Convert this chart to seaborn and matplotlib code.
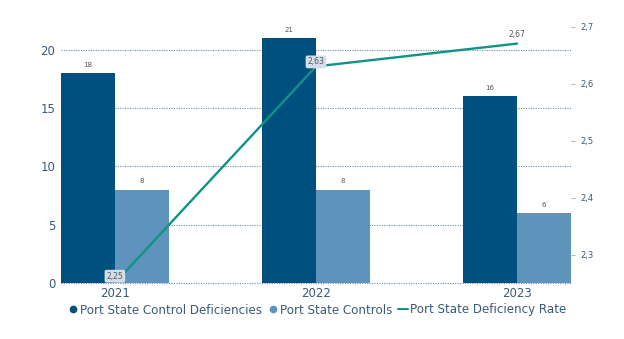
import matplotlib
matplotlib.use("Agg")
import matplotlib.pyplot as plt
import seaborn as sns
import pandas as pd
from matplotlib.lines import Line2D

years = ["2021", "2022", "2023"]
deficiencies = [18, 21, 16]
controls = [8, 8, 6]
rate = [2.25, 2.63, 2.67]
rate_labels = ["2,25", "2,63", "2,67"]

dark = "#00507F"
light = "#5E94BB"
teal = "#0E9385"
txt = "#3A5A78"

sns.set_theme(style="white")
plt.rcParams['font.family'] = ['DejaVu Sans']

df = pd.DataFrame({
    "year": years * 2,
    "value": deficiencies + controls,
    "series": ["Port State Control Deficiencies"] * 3 + ["Port State Controls"] * 3,
})

fig = plt.figure(figsize=(6.24, 3.39), dpi=100)
ax = fig.add_axes([61/624, 1 - 283/339, (571-61)/624, (283-26.5)/339])
sns.barplot(data=df, x="year", y="value", hue="series", palette=[dark, light],
            width=0.536, ax=ax, legend=False, saturation=1)
for p in ax.patches:
    p.set_edgecolor("none")
ax.set_xlim(-0.268, 2.268)
ax.set_ylim(0, 22)
ax.set_yticks([0, 5, 10, 15, 20])
ax.yaxis.grid(True, linestyle=(0, (1, 1.2)), color="#6F8FAE", linewidth=0.8)
ax.axhline(0, linestyle=(0, (1, 1.2)), color="#6F8FAE", linewidth=0.8,
           clip_on=False, zorder=0.5)
ax.set_axisbelow(True)
for s in ax.spines.values():
    s.set_visible(False)
ax.set_xlabel("")
ax.set_ylabel("")
ax.tick_params(axis="both", length=0, labelsize=8.5, colors=txt, pad=4)
ax.tick_params(axis="x", pad=3)

for c in ax.containers:
    for bar in c:
        h = bar.get_height()
        ax.text(bar.get_x() + bar.get_width()/2, h + 0.45, f"{int(h)}",
                ha="center", va="bottom", fontsize=5, color="#555555")

ax2 = ax.twinx()
ax2.plot([0, 1, 2], rate, color=teal, linewidth=1.7, zorder=5)
ax2.set_ylim(2.25, 2.7)
ax2.set_yticks([2.3, 2.4, 2.5, 2.6, 2.7])
ax2.set_yticklabels(["2,3", "2,4", "2,5", "2,6", "2,7"])
ax2.tick_params(axis="y", length=3, width=0.6, labelsize=6, pad=4)
ax2.tick_params(axis="y", colors="#9AAABB", labelcolor=txt)
for s in ax2.spines.values():
    s.set_visible(False)

box = dict(boxstyle="round,pad=0.25", fc="#D4DEE8", ec="none")
ax2.text(0, rate[0] + 0.004, rate_labels[0], ha="center", va="bottom",
         fontsize=5.5, color="#555555", bbox=box, zorder=6)
ax2.text(1, rate[1] + 0.0, rate_labels[1], ha="center", va="bottom",
         fontsize=5.5, color="#555555", bbox=box, zorder=6)
ax2.text(2, rate[2] + 0.008, rate_labels[2], ha="center", va="bottom",
         fontsize=5.5, color="#555555", zorder=6)

handles = [
    Line2D([], [], marker="o", linestyle="none", color=dark, markersize=4.5),
    Line2D([], [], marker="o", linestyle="none", color=light, markersize=4.5),
    Line2D([], [], color=teal, linewidth=1.5),
]
labels = ["Port State Control Deficiencies", "Port State Controls", "Port State Deficiency Rate"]
fig.legend(handles, labels, loc="center", bbox_to_anchor=(317/624, 1 - 310/339),
           ncol=3, frameon=False, fontsize=8.6, labelcolor=txt,
           handlelength=0.9, handletextpad=0.15, columnspacing=0.45)

fig.savefig("out.png", dpi=100)
